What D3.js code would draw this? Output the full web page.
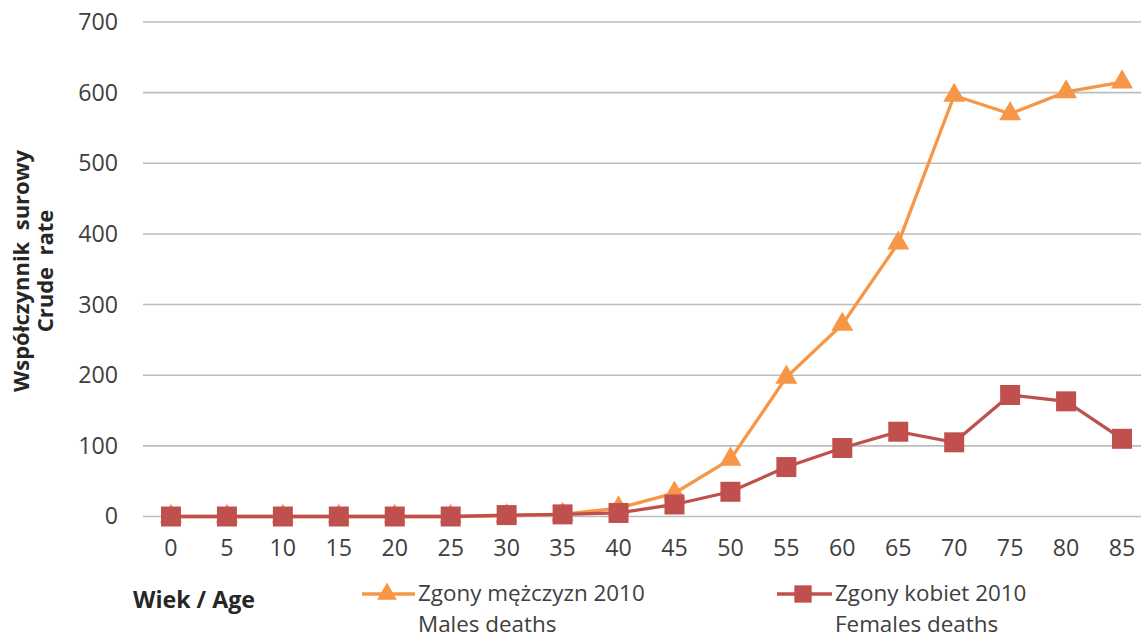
<!DOCTYPE html>
<html><head><meta charset="utf-8">
<script src="https://cdn.jsdelivr.net/npm/d3@7"></script>
<style>body{margin:0;background:#fff}svg{display:block}</style>
</head><body><svg id="c" width="1141" height="639" font-family="Open Sans, sans-serif"></svg>
<script>
const ages = ["0","5","10","15","20","25","30","35","40","45","50","55","60","65","70","75","80","85"];
const males = [0,0,0,0,0,0,1,3,12,33,81,197,272,387,596,570,601,615];
const females = [0,0,0,0,0,0,2,3,5,17,35,70,97,120,105,172,163,110];
const yTicks = [0,100,200,300,400,500,600,700];
const seriesNames = [["Zgony mężczyzn 2010","Males deaths"],["Zgony kobiet 2010","Females deaths"]];
const colors = ["#F79646","#C0504D"];

const svg = d3.select("#c");
const x = d3.scaleBand().domain(ages).range([143,1150]);
const y = d3.scaleLinear().domain([0,700]).range([516.5,22]);
const cx = d => x(d) + x.bandwidth()/2;
const FS = 23.2;
const LFS = 22.4;

// grid
svg.append("g").selectAll("line").data(yTicks).join("line")
  .attr("x1",143).attr("x2",1141).attr("y1",d=>y(d)).attr("y2",d=>y(d))
  .attr("stroke","#bdbdbd").attr("stroke-width",1.6);

// y axis labels
const ya = svg.append("g").attr("transform","translate(118,0)")
  .call(d3.axisLeft(y).tickValues(yTicks).tickSize(0).tickPadding(0));
ya.select(".domain").remove();
ya.attr("font-family",null).attr("font-size",null);
ya.selectAll("text").attr("font-size",FS).attr("fill","#404040");

// x axis labels
const xa = svg.append("g").attr("transform","translate(0,540)")
  .call(d3.axisBottom(x).tickSize(0).tickPadding(0));
xa.select(".domain").remove();
xa.attr("font-family",null).attr("font-size",null);
xa.selectAll("text").attr("font-size",FS).attr("fill","#404040");

// axis title
const yt = svg.append("text").attr("transform","translate(0,271) rotate(-90)")
  .attr("text-anchor","middle").attr("font-weight","bold").attr("font-size",22).attr("fill","#262626")
  .attr("xml:space","preserve");
yt.append("tspan").attr("x",0).attr("y",29).text("Współczynnik  surowy");
yt.append("tspan").attr("x",0).attr("y",53).text("Crude  rate");

svg.append("text").attr("x",133).attr("y",608).attr("font-weight","bold").attr("font-size",FS).attr("fill","#262626").text("Wiek / Age");

const line = d3.line().x((d,i)=>cx(ages[i])).y(d=>y(d));
const tri = d3.symbol().type(d3.symbolTriangle).size(210);
const sq = d3.symbol().type(d3.symbolSquare).size(400);

// male
svg.append("path").datum(males).attr("d",line).attr("fill","none").attr("stroke",colors[0]).attr("stroke-width",3.3);
svg.append("g").selectAll("path").data(males).join("path")
  .attr("transform",(d,i)=>`translate(${cx(ages[i])},${y(d)})`).attr("d",tri).attr("fill",colors[0]);
// female
svg.append("path").datum(females).attr("d",line).attr("fill","none").attr("stroke",colors[1]).attr("stroke-width",3.3);
svg.append("g").selectAll("path").data(females).join("path")
  .attr("transform",(d,i)=>`translate(${cx(ages[i])},${y(d)})`).attr("d",sq).attr("fill",colors[1]);

// legend
const leg = [{x0:362,x1:415,tx:418},{x0:777,x1:832,tx:835}];
leg.forEach((l,i)=>{
  const g = svg.append("g");
  g.append("line").attr("x1",l.x0).attr("x2",l.x1).attr("y1",594).attr("y2",594).attr("stroke",colors[i]).attr("stroke-width",3.3);
  g.append("path").attr("transform",`translate(${i===0?387:803},594)`).attr("d",i===0?d3.symbol().type(d3.symbolTriangle).size(170):d3.symbol().type(d3.symbolSquare).size(300)).attr("fill",colors[i]);
  g.append("text").attr("x",l.tx).attr("y",601).attr("font-size",LFS).attr("fill","#404040").text(seriesNames[i][0]);
  g.append("text").attr("x",l.tx).attr("y",632).attr("font-size",LFS).attr("fill","#404040").text(seriesNames[i][1]);
});
</script></body></html>
